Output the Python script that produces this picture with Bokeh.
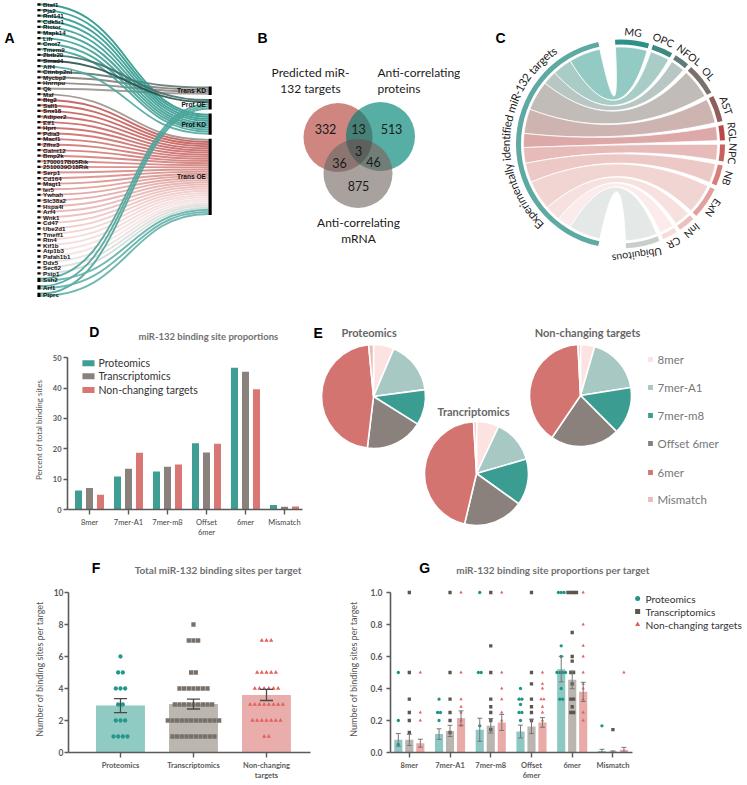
import numpy as np
from bokeh.plotting import figure
from bokeh.models import Range1d, FixedTicker, PrintfTickFormatter
from bokeh.layouts import row, column
from bokeh.embed import file_html
from bokeh.resources import INLINE
from bokeh.core.properties import value

# ============================ DATA ============================
# Panel A - genes and the dataset nodes they connect to
genes = ["Btaf1", "Pja2", "Rnf141", "Cdk5r1", "Rictor", "Mapk14", "Lifr", "Cnot7", "Tmem9",
         "Zbtb20", "Smad4", "Aff4", "Cttnbp2nl", "Mycbp2", "Hnrnpu", "Qk", "Maf", "Btg2", "Sall1",
         "Snx18", "Adipor2", "Elf1", "Hprt", "Pdia3", "Macf1", "Zfhx3", "Galnt12", "Bmp2k",
         "1700017B05Rik", "2510039O18Rik", "Serp1", "Cd164", "Magt1", "Ier5", "Ywhah", "Slc38a2",
         "Hspa4l", "Arf4", "Wnk1", "Cd47", "Ube2d1", "Tmeff1", "Rtn4", "Kif1b", "Atp1b3",
         "Pafah1b1", "Ddx5", "Sec62", "Psip1", "Ssh2", "Arf1", "Ptprc"]
sankey_nodes = ["Trans KD", "Prot OE", "Prot KD", "Trans OE"]
trans_kd_genes = ["Cttnbp2nl", "Mycbp2", "Hnrnpu", "Qk"]
prot_oe_genes = ["Zbtb20", "Smad4", "Ssh2", "Arf1", "Ptprc"]
prot_kd_genes = ["Btaf1", "Pja2", "Rnf141", "Cdk5r1", "Rictor", "Mapk14", "Lifr", "Cnot7",
                 "Tmem9", "Aff4"]
trans_oe_genes = ["Maf", "Btg2", "Sall1", "Snx18", "Adipor2", "Elf1", "Hprt", "Pdia3", "Macf1",
                  "Zfhx3", "Galnt12", "Bmp2k", "1700017B05Rik", "2510039O18Rik", "Serp1", "Cd164",
                  "Magt1", "Ier5", "Ywhah", "Slc38a2", "Hspa4l", "Arf4", "Wnk1", "Cd47", "Ube2d1",
                  "Tmeff1", "Rtn4", "Kif1b", "Atp1b3", "Pafah1b1", "Ddx5", "Sec62", "Psip1",
                  "Ssh2", "Arf1", "Ptprc"]

# Panel B - Venn diagram
venn_set_labels = [["Predicted miR-", "132 targets"], ["Anti-correlating", "proteins"],
                   ["Anti-correlating", "mRNA"]]
venn_regions = ["pred", "pred+prot", "prot", "all", "pred+mrna", "prot+mrna", "mrna"]
venn_counts = [332, 13, 513, 3, 36, 46, 875]

# Panel C - chord diagram
chord_source = "Experimentally identified miR-132 targets"
cell_types = ["MG", "OPC", "NFOL", "OL", "AST", "RGL", "NPC", "NB", "ExN", "InN", "CR", "Ubiquitous"]
cell_type_targets = [18, 11, 8, 17, 14, 8, 9, 11, 17, 9, 8, 18]

# Panel D - binding site proportions (% of total binding sites)
site_types = ["8mer", "7mer-A1", "7mer-m8", "Offset\n6mer", "6mer", "Mismatch"]
series_names = ["Proteomics", "Transcriptomics", "Non-changing targets"]
pct_prot = [6.3, 10.9, 12.5, 21.8, 46.7, 1.5]
pct_trans = [7.1, 13.4, 14.1, 18.8, 45.4, 0.9]
pct_nc = [4.9, 18.7, 14.8, 21.7, 39.6, 1.0]

# Panel E - pies
pie_labels = ["8mer", "7mer-A1", "7mer-m8", "Offset 6mer", "6mer", "Mismatch"]
pie_titles = ["Proteomics", "Trancriptomics", "Non-changing targets"]
pie_prot = [6.4, 16.5, 11.0, 18.0, 46.6, 1.5]
pie_trans = [7.0, 13.5, 14.4, 18.8, 45.4, 0.9]
pie_nc = [4.5, 18.0, 15.0, 22.0, 39.7, 0.8]

# Panel F - total binding sites per target
f_groups = ["Proteomics", "Transcriptomics", "Non-changing\ntargets"]
f_mean = [2.93, 3.03, 3.60]
f_sem = [0.44, 0.31, 0.35]
f_prot_values = [6, 5, 4, 3, 2, 1]
f_prot_counts = [1, 2, 3, 2, 3, 4]
f_trans_values = [8, 7, 5, 4, 3, 2, 1]
f_trans_counts = [1, 3, 2, 7, 9, 12, 10]
f_nc_values = [7, 5, 4, 3, 2, 1]
f_nc_counts = [3, 5, 6, 8, 7, 2]

# Panel G - binding site proportions per target
g_mean_prot = [0.079, 0.115, 0.142, 0.131, 0.521, 0.010]
g_sem_prot = [0.040, 0.033, 0.072, 0.040, 0.080, 0.010]
g_mean_trans = [0.079, 0.135, 0.167, 0.163, 0.454, 0.006]
g_sem_trans = [0.035, 0.035, 0.045, 0.045, 0.055, 0.004]
g_mean_nc = [0.058, 0.215, 0.188, 0.188, 0.379, 0.017]
g_sem_nc = [0.025, 0.045, 0.050, 0.030, 0.060, 0.015]
g_pts_prot = [[0.5, 0.2, 0.05], [0.333, 0.25, 0.25, 0.2], [1.0, 0.5, 0.5, 0.167],
              [0.4, 0.333, 0.333, 0.3, 0.25, 0.25, 0.2],
              [1.0, 1.0, 1.0, 0.667, 0.6, 0.5, 0.5, 0.5, 0.5, 0.4, 0.333, 0.333], [0.167]]
g_pts_trans = [[1.0, 0.5, 0.333, 0.25, 0.2, 0.125], [1.0, 0.5, 0.333, 0.25, 0.2, 0.125],
               [1.0, 0.667, 0.5, 0.333, 0.286, 0.25, 0.2, 0.143],
               [1.0, 0.5, 0.429, 0.333, 0.286, 0.25, 0.2],
               [1.0, 1.0, 1.0, 1.0, 0.75, 0.6, 0.571, 0.5, 0.5, 0.429, 0.333, 0.333, 0.286, 0.25, 0.25],
               [0.143]]
g_pts_nc = [[0.5, 0.25, 0.2], [1.0, 0.5, 0.333, 0.286, 0.25, 0.2, 0.167],
            [1.0, 0.5, 0.4, 0.333, 0.25, 0.2],
            [0.5, 0.429, 0.4, 0.333, 0.333, 0.286, 0.25, 0.2],
            [1.0, 0.8, 0.667, 0.6, 0.5, 0.429, 0.4, 0.333, 0.25, 0.2], [0.5]]

# ============================ STYLE ============================
TEAL, GREY, RED = "#3e9e94", "#8a817c", "#d97775"
FONT = "Lato"
ARIAL = "Liberation Sans"


def hex2rgb(h):
    h = h.lstrip("#")
    return np.array([int(h[i:i + 2], 16) for i in (0, 2, 4)], float)


def rgb2hex(c):
    return "#%02x%02x%02x" % tuple(int(round(v)) for v in c)


def ramp(stops, t):
    for (p0, c0), (p1, c1) in zip(stops[:-1], stops[1:]):
        if t <= p1:
            u = (t - p0) / (p1 - p0) if p1 > p0 else 0.0
            return rgb2hex(hex2rgb(c0) * (1 - u) + hex2rgb(c1) * u)
    return stops[-1][1]


def canvas(w, h):
    p = figure(width=w, height=h, x_range=Range1d(0, w), y_range=Range1d(0, h),
               x_axis_location=None, y_axis_location=None, min_border=0,
               output_backend="svg", toolbar_location=None, title=None)
    p.xgrid.visible = False
    p.ygrid.visible = False
    p.outline_line_color = None
    return p


def letter(p, x, fy, t):
    p.text([x], [p.height - fy], text=[t], text_font=value(ARIAL), text_font_style="bold",
           text_font_size="14px", text_align="left", text_baseline="middle", text_color="black")


def header(w, h, let_x, let_fy, let, title, title_x, title_fy, title_px):
    p = canvas(w, h)
    letter(p, let_x, let_fy, let)
    p.text([title_x], [h - title_fy], text=[title], text_font=value(FONT), text_font_style="bold",
           text_font_size=title_px, text_align="center", text_baseline="middle",
           text_color="#707070")
    return p


def style_axes(p, tick_px, label_px):
    for ax in list(p.xaxis) + list(p.yaxis):
        ax.axis_line_color = "#5a5a5a"
        ax.axis_line_width = 1.6
        ax.major_tick_line_color = "#5a5a5a"
        ax.major_tick_line_width = 1.4
        ax.major_tick_in = 0
        ax.major_tick_out = 5
        ax.minor_tick_line_color = None
        ax.major_label_text_font = FONT
        ax.major_label_text_font_style = "bold"
        ax.major_label_text_font_size = tick_px
        ax.major_label_text_color = "#5a5a5a"
        ax.axis_label_text_font = FONT
        ax.axis_label_text_font_style = "normal"
        ax.axis_label_text_font_size = label_px
        ax.axis_label_text_color = "#555555"
    p.xgrid.visible = False
    p.ygrid.visible = False
    p.outline_line_color = None


# ============================ PANEL A ============================
WA, HA = 240, 300
pa = canvas(WA, HA)
n = len(genes)
gidx = {g: i for i, g in enumerate(genes)}
node_members = [trans_kd_genes, prot_oe_genes, prot_kd_genes, trans_oe_genes]
gene_links = {}
for k, mem in enumerate(node_members):
    for g in mem:
        gene_links.setdefault(g, []).append(k)
nl = np.array([len(gene_links.get(g, [1])) for g in genes])
pitch = np.where(nl > 1, 7.5, 5.6)
g_fy = 4 + np.concatenate([[0], np.cumsum((pitch[:-1] + pitch[1:]) / 2)])

lw, gap, fy_start = 2.12, 4.0, 86.0
node_fy0 = []
cur = fy_start
for mem in node_members:
    node_fy0.append(cur)
    cur += len(mem) * lw + gap

bottom_teal = ["Ssh2", "Arf1", "Ptprc"]
kd_cols = ["#5d7a76", "#857d79", "#8f8682", "#9a928e"]
oe_cols = ["#3f716c", "#2f514d"]
i_first, i_last = gidx["Btg2"], gidx["Psip1"]
red_stops = [(0.0, "#c25a57"), (0.45, "#d98d8a"), (0.78, "#f2d3d1"), (0.9, "#f6e4e3"),
             (1.0, "#cfdbd8")]

links = []
for k, mem in enumerate(node_members):
    order = sorted(mem, key=lambda g: gidx[g])
    for s, g in enumerate(order):
        i = gidx[g]
        ks = sorted(gene_links[g])
        m = len(ks)
        j = ks.index(k)
        sy = g_fy[i] + (j - (m - 1) / 2) * lw
        ey = node_fy0[k] + (s + 0.5) * lw
        if g in bottom_teal:
            col, layer = ("#63b0a8" if k == 3 else "#4ba59b"), 5
        elif k == 2:
            col, layer = ramp([(0, "#2c978b"), (1, "#4fa89e")], i / 11.0), 3
        elif k == 0:
            col, layer = kd_cols[trans_kd_genes.index(g)], 2
        elif k == 1:
            col, layer = oe_cols[prot_oe_genes.index(g)], 4
        else:
            col = "#9b8f8b" if g == "Maf" else ramp(red_stops, (i - i_first) / (i_last - i_first))
            layer = 1
        links.append((layer, sy, ey, col))
links.sort(key=lambda t: t[0])
x0, x1 = 40.0, 208.0
xm = 0.5 * (x0 + x1) + 4
sy = np.array([l[1] for l in links])
ey = np.array([l[2] for l in links])
pa.bezier(x0=x0, y0=HA - sy, x1=x1, y1=HA - ey, cx0=xm, cy0=HA - sy, cx1=xm, cy1=HA - ey,
          line_color=[l[3] for l in links], line_width=1.9, line_alpha=0.9)
pa.rect(x=38.5, y=HA - g_fy, width=3.2, height=np.maximum(2.3, nl * lw), fill_color="black",
        line_color=None)
pa.text(x=42.5, y=HA - g_fy, text=genes, text_font=value(ARIAL), text_font_style="bold",
        text_font_size="6.2px", text_baseline="middle", text_color="#111111")
node_h = np.array([len(m) * lw for m in node_members])
node_c = np.array(node_fy0) + node_h / 2
pa.rect(x=209.6, y=HA - node_c, width=3.2, height=node_h, fill_color="black", line_color=None)
pa.text(x=205.5, y=HA - node_c, text=sankey_nodes, text_font=value(ARIAL), text_font_style="bold",
        text_font_size="6.6px", text_align="right", text_baseline="middle", text_color="#111111")
letter(pa, 4, 37, "A")

# ============================ PANEL B ============================
WB, HB = 220, 300
pb = canvas(WB, HB)
venn_cx = [97.5, 140.0, 117.5]
venn_cy = [137.0, 136.0, 173.0]
venn_r = 34.5
venn_fill = ["#c05c54", "#1c9284", "#8a807b"]
for cxv, cyv, col in zip(venn_cx, venn_cy, venn_fill):
    pb.circle(x=[cxv], y=[HB - cyv], radius=venn_r, fill_color=col, fill_alpha=0.74,
              line_color=None)
# darken pairwise overlaps (multiply-like look)
lens_x, lens_y = [], []
for i_a, i_b in [(0, 1), (0, 2), (1, 2)]:
    ca = np.array([venn_cx[i_a], HB - venn_cy[i_a]])
    cb = np.array([venn_cx[i_b], HB - venn_cy[i_b]])
    d = np.linalg.norm(cb - ca)
    phi = np.arctan2(*(cb - ca)[::-1])
    alpha = np.arccos(d / (2 * venn_r))
    ta = np.linspace(phi - alpha, phi + alpha, 40)
    tb = np.linspace(phi + np.pi - alpha, phi + np.pi + alpha, 40)
    px = np.concatenate([ca[0] + venn_r * np.cos(ta), cb[0] + venn_r * np.cos(tb)])
    py = np.concatenate([ca[1] + venn_r * np.sin(ta), cb[1] + venn_r * np.sin(tb)])
    lens_x.append(px)
    lens_y.append(py)
pb.patches(xs=lens_x, ys=lens_y, fill_color="#3b3433", fill_alpha=0.16, line_color=None)
venn_pos = [(85, 128), (118, 128), (151, 128), (118, 150), (99, 162), (133, 161), (118, 185)]
pb.text(x=[p[0] for p in venn_pos], y=[HB - p[1] for p in venn_pos],
        text=[str(v) for v in venn_counts], text_font=value(FONT), text_font_size="12.5px",
        text_align="center", text_baseline="middle", text_color="#1a1a1a")
set_pos = [(70, 72, "center"), (137, 72, "left"), (118, 222, "center")]
for (lx, ly, al), lines in zip(set_pos, venn_set_labels):
    pb.text(x=[lx, lx], y=[HB - ly, HB - ly - 16], text=lines, text_font=value(FONT),
            text_font_size="12px", text_align=al, text_baseline="middle", text_color="#1a1a1a")
letter(pb, 17, 37, "B")

# ============================ PANEL C ============================
WC, HC = 286, 300
pc = canvas(WC, HC)
ccx, ccy = 160.0, HC - 143.5
vals = np.array(cell_type_targets, float)
span = vals * 1.05
gap_deg = (180.0 - span.sum()) / (len(vals) - 1)
ra1, ra2 = [], []
a = 93.0
for s in span:
    ra1.append(a)
    ra2.append(a - s)
    a -= s + gap_deg
lb1, lb2 = [], []
b = 180.0 - span.sum() / 2
for s in span:
    lb1.append(b)
    lb2.append(b + s)
    b += s

ribbon_cols = ["#8cc6bf", "#a2c8c3", "#b3c3bf", "#bdb7b3", "#c9aeab", "#daa3a1", "#e4b6b4",
               "#ebc4c2", "#efd2d0", "#f5dfdd", "#fbebea", "#e2e6e4"]
arc_cols = ["#2a9286", "#3e8a83", "#5d7b77", "#7a706c", "#8f5e5a", "#b94844", "#c9625e",
            "#d6807c", "#e2a19e", "#ecc0be", "#f8dcda", "#c8ceca"]
label_nudge = [0, 1.5, -1.5, 0, 0, 0, 0, 0, 0, 0, 0, -4.0]
R_RIB, R_IN, R_OUT = 97.0, 99.5, 104.5


def pol(theta_deg, r):
    th = np.radians(theta_deg)
    return np.array([ccx + r * np.cos(th), ccy + r * np.sin(th)])


def arc_pts(a_from, a_to, r, npt=40):
    th = np.radians(np.linspace(a_from, a_to, npt))
    return np.stack([ccx + r * np.cos(th), ccy + r * np.sin(th)], axis=1)


def qbez(p0, p2, npt=40):
    t = np.linspace(0, 1, npt)[:, None]
    c = np.array([ccx, ccy])
    return (1 - t) ** 2 * p0 + 2 * (1 - t) * t * c + t ** 2 * p2


rxs, rys = [], []
for i in range(len(vals)):
    seg = [arc_pts(ra1[i], ra2[i], R_RIB),
           qbez(pol(ra2[i], R_RIB), pol(lb2[i], R_RIB)),
           arc_pts(lb2[i], lb1[i], R_RIB),
           qbez(pol(lb1[i], R_RIB), pol(ra1[i], R_RIB))]
    P = np.concatenate(seg)
    rxs.append(P[:, 0])
    rys.append(P[:, 1])
pc.patches(xs=rxs, ys=rys, fill_color=ribbon_cols, fill_alpha=0.93, line_color="white",
           line_width=0.8)
pc.annular_wedge(x=ccx, y=ccy, inner_radius=R_IN, outer_radius=R_OUT,
                 start_angle=np.radians(ra2), end_angle=np.radians(ra1), fill_color=arc_cols,
                 line_color=None)
pc.annular_wedge(x=ccx, y=ccy, inner_radius=R_IN, outer_radius=R_OUT,
                 start_angle=np.radians(lb1[0]), end_angle=np.radians(lb2[-1]),
                 fill_color="#5ea9a1", line_color=None)
mid = (np.array(ra1) + np.array(ra2)) / 2 + np.array(label_nudge)
lp = np.array([pol(m, 112.5) for m in mid])
pc.text(x=lp[:, 0], y=lp[:, 1], text=cell_types, angle=np.radians(mid - 90), text_font=value(FONT),
        text_font_size="10.5px", text_align="center", text_baseline="middle", text_color="#222222")

cw = {" ": 0.26, "-": 0.35, "i": 0.23, "l": 0.23, "t": 0.35, "f": 0.32, "r": 0.36, "s": 0.41,
      "m": 0.83, "w": 0.76, "E": 0.55, "R": 0.58, "c": 0.45, "a": 0.49, "y": 0.5, "x": 0.49,
      "g": 0.5, "e": 0.51}
fs = 11.5
w = np.array([cw.get(ch, 0.55) for ch in chord_source]) * fs
r_txt = 115.0
th0 = np.radians(175.5) + w.sum() / (2 * r_txt)
th = th0 - (np.cumsum(w) - w / 2) / r_txt
pc.text(x=ccx + r_txt * np.cos(th), y=ccy + r_txt * np.sin(th), text=list(chord_source),
        angle=th - np.pi / 2, text_font=value(FONT), text_font_size="%.1fpx" % fs,
        text_align="center", text_baseline="middle", text_color="#222222")
letter(pc, 35, 37, "C")

# ============================ PANEL D ============================
WD = 312
hd = header(WD, 50, 29, 31, "D", "miR-132 binding site proportions", 187, 36, "9.5px")
pdp = figure(width=WD, height=190, x_range=Range1d(0.436, 6.462), y_range=Range1d(0, 52.41),
             min_border_left=67, min_border_right=10, min_border_top=0, min_border_bottom=29,
             output_backend="svg", toolbar_location=None, title=None)
style_axes(pdp, "7.5px", "8px")
pdp.yaxis.ticker = FixedTicker(ticks=[0, 10, 20, 30, 40, 50])
pdp.yaxis.bounds = (0, 50)
pdp.yaxis.axis_label = "Percent of total binding sites"
pdp.yaxis.major_label_standoff = 2
pdp.yaxis.major_tick_out = 4
pdp.yaxis.axis_label_standoff = 6
cats = np.arange(1, len(site_types) + 1)
pdp.xaxis.ticker = FixedTicker(ticks=list(cats))
pdp.xaxis.major_label_overrides = {int(c): s for c, s in zip(cats, site_types)}
pdp.xaxis.major_label_text_font_style = "normal"
pdp.xaxis.major_label_text_color = "#444444"
pdp.xaxis.major_label_standoff = 3
d_offsets = [-0.282, 0.0, 0.282]
for vals_s, off, col in zip([pct_prot, pct_trans, pct_nc], d_offsets, [TEAL, GREY, RED]):
    pdp.vbar(x=cats + off, top=vals_s, width=0.18, fill_color=col, line_color=None)
leg_y = np.array([48.2, 43.9, 39.4])
pdp.rect(x=0.974, y=leg_y, width=0.31, height=1.95, fill_color=[TEAL, GREY, RED], line_color=None)
pdp.text(x=1.23, y=leg_y, text=series_names, text_font=value(FONT), text_font_size="10.5px",
         text_baseline="middle", text_color="#333333")
col_d = column(hd, pdp)

# ============================ PANEL E ============================
WE, HE = 434, 240
pe = canvas(WE, HE)
pie_cols = ["#fce3e1", "#a7c8c3", "#3b9d92", "#8a817c", "#d47471", "#edbbb9"]
pie_centers = [(61, 96, 52), (164, 173, 52), (268, 95, 51)]
for (px_, py_, pr), pv in zip(pie_centers, [pie_prot, pie_trans, pie_nc]):
    v = np.array(pv, float)
    frac = v / v.sum()
    c1 = np.cumsum(frac)
    c0 = c1 - frac
    pe.wedge(x=px_, y=HE - py_, radius=pr, start_angle=np.radians(90 - c1 * 360),
             end_angle=np.radians(90 - c0 * 360), fill_color=pie_cols, line_color="white",
             line_width=1.6)
title_pos = [(29, 32, "left"), (161, 111, "center"), (275, 32, "center")]
for (tx, ty, al), tt in zip(title_pos, pie_titles):
    pe.text(x=[tx], y=[HE - ty], text=[tt], text_font=value(FONT), text_font_style="bold",
            text_font_size="11px", text_align=al, text_baseline="middle", text_color="#666666")
leg_fy = np.array([59, 87, 115, 143, 172, 199])
pe.rect(x=338, y=HE - leg_fy, width=4.8, height=4.8, fill_color=pie_cols, line_color=None)
pe.text(x=345, y=HE - leg_fy, text=pie_labels, text_font=value(FONT), text_font_size="11.5px",
        text_baseline="middle", text_color="#777777")
letter(pe, 1, 32, "E")

# ============================ PANEL F ============================
WF = 312
hf = header(WF, 45, 30, 27, "F", "Total miR-132 binding sites per target", 193, 29, "10px")
pf = figure(width=WF, height=199, x_range=Range1d(0.288, 3.603), y_range=Range1d(0, 10.4375),
            min_border_left=68, min_border_right=2, min_border_top=0, min_border_bottom=32,
            output_backend="svg", toolbar_location=None, title=None)
style_axes(pf, "8.5px", "9px")
pf.yaxis.ticker = FixedTicker(ticks=[0, 2, 4, 6, 8, 10])
pf.yaxis.bounds = (0, 10)
pf.yaxis.axis_label = "Number of binding sites per target"
pf.yaxis.major_label_standoff = 1
pf.yaxis.major_tick_out = 4
pf.yaxis.axis_label_standoff = 6
fcats = np.arange(1, 4)
pf.xaxis.ticker = FixedTicker(ticks=list(fcats))
pf.xaxis.major_label_overrides = {int(c): s for c, s in zip(fcats, f_groups)}
pf.xaxis.major_label_text_font_size = "7.5px"
pf.xaxis.major_label_standoff = 3
pf.vbar(x=fcats, top=f_mean, width=0.67, fill_color=["#8fcac3", "#bcb6b1", "#e9aeac"],
        line_color=None)
f_markers = ["circle", "square", "triangle"]
f_pt_cols = ["#24978b", "#7a706a", "#e0625e"]
for c, (fv, fc), mk, col in zip(fcats, [(f_prot_values, f_prot_counts),
                                        (f_trans_values, f_trans_counts),
                                        (f_nc_values, f_nc_counts)], f_markers, f_pt_cols):
    xs, ys = [], []
    for v, cnt in zip(fv, fc):
        for j in range(cnt):
            xs.append(c + (j - (cnt - 1) / 2) * 0.064)
            ys.append(v)
    pf.scatter(x=xs, y=ys, marker=mk, size=4.3, fill_color=col, line_color=None)
fm, fsd = np.array(f_mean), np.array(f_sem)
pf.segment(x0=fcats, y0=fm - fsd, x1=fcats, y1=fm + fsd, line_color="#4a4a4a", line_width=1.3)
for yy in (fm - fsd, fm + fsd):
    pf.segment(x0=fcats - 0.09, y0=yy, x1=fcats + 0.09, y1=yy, line_color="#4a4a4a", line_width=1.3)
col_f = column(hf, pf)

# ============================ PANEL G ============================
WG = 434
hg = header(WG, 45, 35, 27, "G", "miR-132 binding site proportions per target", 198, 29, "10px")
pg = figure(width=WG, height=199, x_range=Range1d(0.538, 9.28), y_range=Range1d(0, 1.04375),
            min_border_left=78, min_border_right=0, min_border_top=0, min_border_bottom=32,
            output_backend="svg", toolbar_location=None, title=None)
style_axes(pg, "8.5px", "9px")
pg.yaxis.ticker = FixedTicker(ticks=[0, 0.2, 0.4, 0.6, 0.8, 1.0])
pg.yaxis.formatter = PrintfTickFormatter(format="%.1f")
pg.yaxis.bounds = (0, 1.0)
pg.yaxis.axis_label = "Number of binding sites per target"
pg.yaxis.major_label_standoff = 4
pg.yaxis.major_tick_out = 4
pg.yaxis.axis_label_standoff = 9
pg.xaxis.ticker = FixedTicker(ticks=list(cats))
pg.xaxis.bounds = (0.538, 6.484)
pg.xaxis.major_label_overrides = {int(c): s for c, s in zip(cats, site_types)}
pg.xaxis.major_label_text_font_size = "7.5px"
pg.xaxis.major_label_standoff = 3
g_offsets = [-0.27, 0.0, 0.27]
g_bar_cols = ["#8dc9c2", "#bbb5b0", "#eaaaa8"]
g_pt_cols = ["#1f9487", "#5d5550", "#e0605c"]
for means, sems, pts, off, bcol, pcol, mk in zip(
        [g_mean_prot, g_mean_trans, g_mean_nc], [g_sem_prot, g_sem_trans, g_sem_nc],
        [g_pts_prot, g_pts_trans, g_pts_nc], g_offsets, g_bar_cols, g_pt_cols, f_markers):
    xb = cats + off
    pg.vbar(x=xb, top=means, width=0.2, fill_color=bcol, line_color=None)
    xs, ys = [], []
    for c, vals_c in zip(cats, pts):
        uniq = {}
        for v in vals_c:
            uniq[v] = uniq.get(v, 0) + 1
        for v, cnt in uniq.items():
            for j in range(cnt):
                xs.append(c + off + (j - (cnt - 1) / 2) * 0.07)
                ys.append(v)
    pg.scatter(x=xs, y=ys, marker=mk, size=3.3, fill_color=pcol, line_color=None)
    mm, ss = np.array(means), np.array(sems)
    pg.segment(x0=xb, y0=np.maximum(mm - ss, 0), x1=xb, y1=mm + ss, line_color="#777777",
               line_width=1.0)
    for yy in (np.maximum(mm - ss, 0), mm + ss):
        pg.segment(x0=xb - 0.06, y0=yy, x1=xb + 0.06, y1=yy, line_color="#777777", line_width=1.0)
gl_y = np.array([0.9625, 0.881, 0.80])
for yy, mk, col in zip(gl_y, f_markers, g_pt_cols):
    pg.scatter(x=[6.607], y=[yy], marker=mk, size=5, fill_color=col, line_color=None)
pg.text(x=6.80, y=gl_y, text=series_names, text_font=value(FONT), text_font_size="10.2px",
        text_baseline="middle", text_color="#333333")
col_g = column(hg, pg)

layout = column(row(pa, pb, pc), row(col_d, pe), row(col_f, col_g))
open("out.html", "w").write(file_html(layout, INLINE, title="miR-132 targets"))
